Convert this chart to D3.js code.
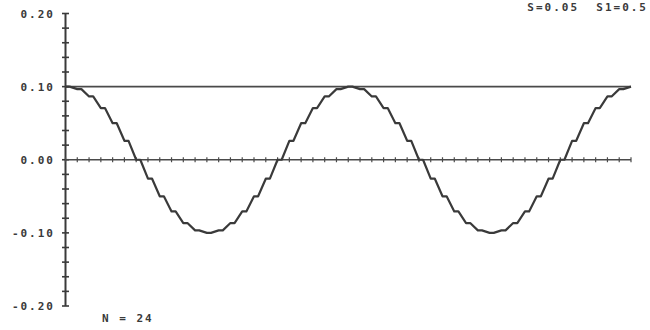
<!DOCTYPE html>
<html>
<head>
<meta charset="utf-8">
<script src="https://cdn.jsdelivr.net/npm/d3@7.9.0/dist/d3.min.js"></script>
<style>
  html, body { margin: 0; padding: 0; background: #fff; }
  svg text {
    font-family: "DejaVu Sans Mono", monospace;
    font-weight: bold;
    font-size: 11px;
    fill: #3a3a3a;
    letter-spacing: 2px;
  }
</style>
</head>
<body>
<svg id="chart" width="650" height="330"></svg>
<script>
const sampleValues = [
  0.1, 0.0966, 0.0866, 0.0707, 0.05, 0.0259, 0, -0.0259, -0.05, -0.0707, -0.0866, -0.0966,
  -0.1, -0.0966, -0.0866, -0.0707, -0.05, -0.0259, 0, 0.0259, 0.05, 0.0707, 0.0866, 0.0966,
  0.1, 0.0966, 0.0866, 0.0707, 0.05, 0.0259, 0, -0.0259, -0.05, -0.0707, -0.0866, -0.0966,
  -0.1, -0.0966, -0.0866, -0.0707, -0.05, -0.0259, 0, 0.0259, 0.05, 0.0707, 0.0866, 0.0966,
  0.1
];
const refLevels = [0.1, 0];
const yLabelValues = [0.2, 0.1, 0, -0.1, -0.2];
const yLabels = ['0.20', '0.10', '0.00', '-0.10', '-0.20'];
const yMinorTicks = [0.2, 0.18, 0.16, 0.14, 0.12, 0.1, 0.08, 0.06, 0.04, 0.02, 0,
  -0.02, -0.04, -0.06, -0.08, -0.1, -0.12, -0.14, -0.16, -0.18, -0.2];
const paramText = 'S=0.05  S1=0.5';
const countText = 'N = 24';

const ink = '#3a3a3a';
const svg = d3.select('#chart');

const xScale = d3.scaleLinear().domain([0, sampleValues.length - 1]).range([65.5, 631]);
const yScale = d3.scaleLinear().domain([-0.2, 0.2]).range([306, 13.5]);

// y axis: vertical line with short ticks crossing it
const axisX = xScale(0);
svg.append('line')
  .attr('x1', axisX).attr('x2', axisX)
  .attr('y1', yScale(0.2)).attr('y2', yScale(-0.2))
  .attr('stroke', ink).attr('stroke-width', 2);

svg.append('g').selectAll('line')
  .data(yMinorTicks)
  .join('line')
  .attr('x1', axisX - 3.5).attr('x2', axisX + 3.5)
  .attr('y1', d => yScale(d)).attr('y2', d => yScale(d))
  .attr('stroke', ink).attr('stroke-width', 1.6);

svg.append('g').selectAll('text')
  .data(yLabelValues)
  .join('text')
  .attr('x', 55)
  .attr('y', d => yScale(d) + 4)
  .attr('text-anchor', 'end')
  .text((d, i) => yLabels[i]);

// reference lines at 0.1 and 0
svg.append('g').selectAll('line')
  .data(refLevels)
  .join('line')
  .attr('x1', xScale(0)).attr('x2', xScale(sampleValues.length - 1))
  .attr('y1', d => yScale(d)).attr('y2', d => yScale(d))
  .attr('stroke', '#4a4a4a').attr('stroke-width', 1.6);

// sample ticks along the zero line
svg.append('g').selectAll('line')
  .data(sampleValues.map((v, i) => i))
  .join('line')
  .attr('x1', d => xScale(d)).attr('x2', d => xScale(d))
  .attr('y1', yScale(0) - 2.5).attr('y2', yScale(0) + 2.5)
  .attr('stroke', '#4a4a4a').attr('stroke-width', 1.2);

// stepped curve: hold each sample briefly, then ramp to the next
const stepPoints = [];
sampleValues.forEach((v, i) => {
  stepPoints.push([i, v]);
  if (i < sampleValues.length - 1) stepPoints.push([i + 0.35, v]);
});

svg.append('path')
  .datum(stepPoints)
  .attr('fill', 'none')
  .attr('stroke', ink)
  .attr('stroke-width', 2.2)
  .attr('stroke-linejoin', 'round')
  .attr('d', d3.line().x(d => xScale(d[0])).y(d => yScale(d[1])));

svg.append('text')
  .attr('x', 648)
  .attr('y', 11)
  .attr('text-anchor', 'end')
  .style('white-space', 'pre')
  .text(paramText);

svg.append('text')
  .attr('x', 102)
  .attr('y', 322)
  .style('white-space', 'pre')
  .text(countText);
</script>
</body>
</html>
